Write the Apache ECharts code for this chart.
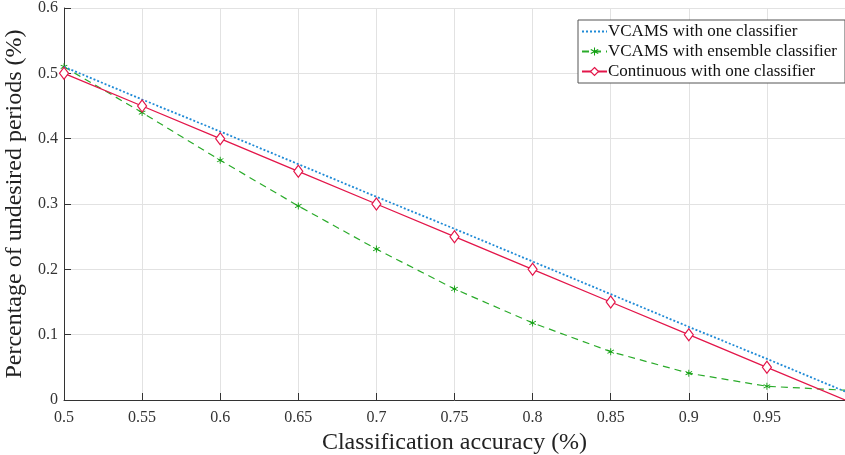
<!DOCTYPE html>
<html>
<head>
<meta charset="utf-8">
<script src="https://cdn.jsdelivr.net/npm/echarts@6/dist/echarts.min.js"></script>
<style>
html,body{margin:0;padding:0;background:#fff;}
#chart{width:845px;height:455px;}
</style>
</head>
<body>
<div id="chart"></div>
<script>
var accuracy = [0.5, 0.55, 0.6, 0.65, 0.7, 0.75, 0.8, 0.85, 0.9, 0.95, 1.0];
var vcamsOne = [0.51, 0.46, 0.411, 0.361, 0.311, 0.262, 0.212, 0.162, 0.112, 0.063, 0.013];
var vcamsEnsemble = [0.51, 0.44, 0.367, 0.297, 0.231, 0.17, 0.118, 0.074, 0.041, 0.021, 0.015];
var continuousOne = [0.5, 0.45, 0.4, 0.35, 0.3, 0.25, 0.2, 0.15, 0.1, 0.05, 0.0];
var seriesNames = ['VCAMS with one classifier', 'VCAMS with ensemble classifier', 'Continuous with one classifier'];

function pairs(ys){
	return accuracy.map(function(x, i){ return [x, ys[i]]; });
}
// last point sits on the right edge, no marker there
function markSize(size){
	return function(v, p){ return p.dataIndex === accuracy.length - 1 ? 0 : size; };
}

var serif = '"Liberation Serif", "DejaVu Serif", serif';
var asterisk = 'path://M4.4,0L5.6,0L5.6,3.9L9,2L9.6,3L6.2,5L9.6,7L9,8L5.6,6.1L5.6,10L4.4,10L4.4,6.1L1,8L0.4,7L3.8,5L0.4,3L1,2L4.4,3.9Z';
var chart = echarts.init(document.getElementById('chart'));

var option = {
	animation: false,
	textStyle: { fontFamily: serif },
	grid: { left: 64, right: 0, top: 8, bottom: 55, containLabel: false, outerBoundsMode: 'none' },
	legend: {
		orient: 'vertical',
		right: 0,
		top: 20,
		padding: [3, 8, 3, 3],
		itemWidth: 25,
		itemHeight: 10,
		itemGap: 3,
		backgroundColor: '#fff',
		borderColor: '#555',
		borderWidth: 1,
		textStyle: { fontFamily: serif, fontSize: 17, lineHeight: 17, color: '#111', padding: [0, 0, 0, -4] },
		data: [
			{ name: seriesNames[0], itemStyle: { opacity: 0 } },
			seriesNames[1],
			{ name: seriesNames[2], itemStyle: { color: '#fff', borderColor: '#e3164a', borderWidth: 1.2 } }
		]
	},
	xAxis: {
		type: 'value',
		min: 0.5,
		max: 1.0,
		interval: 0.05,
		name: 'Classification accuracy (%)',
		nameLocation: 'middle',
		nameGap: 31,
		nameTextStyle: { fontFamily: serif, fontSize: 24, color: '#222' },
		axisLine: { lineStyle: { color: '#333', width: 1 } },
		axisTick: { inside: true, length: 7, lineStyle: { color: '#333' } },
		axisLabel: { fontFamily: serif, fontSize: 16, color: '#333', margin: 10, showMaxLabel: false },
		splitLine: { show: true, lineStyle: { color: '#e2e2e2' } }
	},
	yAxis: {
		type: 'value',
		min: 0,
		max: 0.6,
		interval: 0.1,
		name: 'Percentage of undesired periods (%)',
		nameLocation: 'middle',
		nameGap: 34,
		nameTextStyle: { fontFamily: serif, fontSize: 24, color: '#222' },
		axisLine: { show: true, lineStyle: { color: '#333', width: 1 } },
		axisTick: { show: true, inside: true, length: 7, lineStyle: { color: '#333' } },
		axisLabel: { fontFamily: serif, fontSize: 16, color: '#333', margin: 6 },
		splitLine: { show: true, lineStyle: { color: '#e2e2e2' } }
	},
	series: [
		{
			name: seriesNames[0],
			type: 'line',
			data: pairs(vcamsOne),
			showSymbol: false,
			symbol: 'none',
			color: '#1f8ad6',
			lineStyle: { width: 1.8, type: [2, 2], color: '#1f8ad6' },
			z: 3
		},
		{
			name: seriesNames[1],
			type: 'line',
			data: pairs(vcamsEnsemble),
			symbol: asterisk,
			symbolSize: markSize(7),
			color: '#1aa01a',
			itemStyle: { color: '#12a012' },
			lineStyle: { width: 1.2, type: [7, 5], color: '#2aab2a' },
			z: 2
		},
		{
			name: seriesNames[2],
			type: 'line',
			data: pairs(continuousOne),
			symbol: 'diamond',
			symbolSize: markSize([9, 12]),
			color: '#e3164a',
			itemStyle: { color: '#fff', borderColor: '#e3164a', borderWidth: 1.2 },
			lineStyle: { width: 1.3, color: '#e3164a' },
			z: 4
		}
	]
};
chart.setOption(option);
</script>
</body>
</html>
